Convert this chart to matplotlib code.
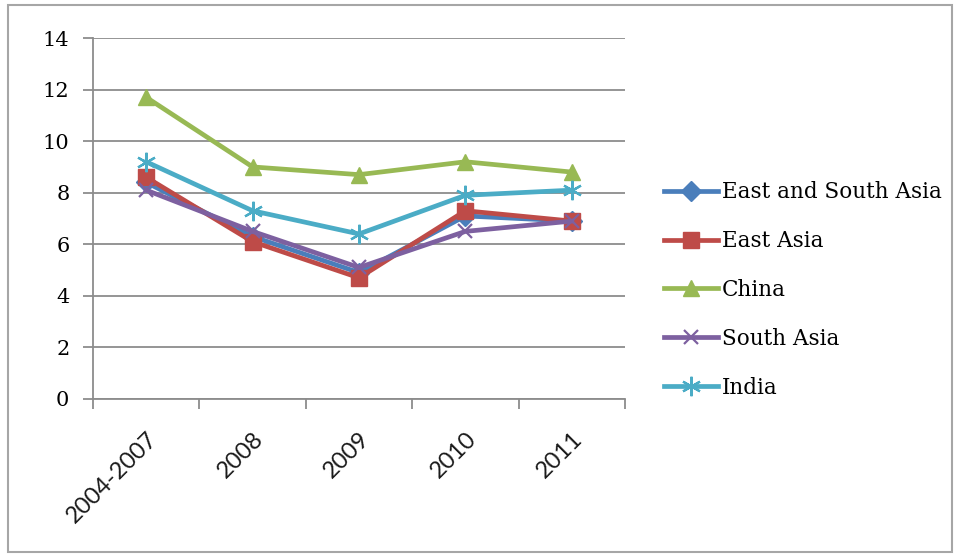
import matplotlib
matplotlib.use("Agg")
import matplotlib.pyplot as plt
from matplotlib.patches import Rectangle
from matplotlib.ticker import FixedLocator
from matplotlib.transforms import ScaledTranslation

categories = ["2004-2007", "2008", "2009", "2010", "2011"]
east_south_asia = [8.4, 6.3, 4.9, 7.1, 6.9]
east_asia = [8.6, 6.1, 4.7, 7.3, 6.9]
china = [11.7, 9.0, 8.7, 9.2, 8.8]
south_asia = [8.1, 6.5, 5.1, 6.5, 6.9]
india = [9.2, 7.3, 6.4, 7.9, 8.1]
y_ticks = [0, 2, 4, 6, 8, 10, 12, 14]

plt.rcParams['font.family'] = ['DejaVu Serif']

fig = plt.figure(figsize=(9.6, 5.57), dpi=100)
ax = fig.add_axes([93/960, 1-399/557, (625-93)/960, (399-38)/557])

x = list(range(len(categories)))
series = [
    ("East and South Asia", east_south_asia, "#4A7EBB", "D", 10),
    ("East Asia", east_asia, "#BE4B48", "s", 12),
    ("China", china, "#98B954", "^", 12),
    ("South Asia", south_asia, "#7D60A0", "x", 10),
    ("India", india, "#4BACC6", (6, 2, 0), 14),
]
for name, vals, col, mk, ms in series:
    kw = dict(markeredgecolor=col, markerfacecolor=col)
    if mk == "x" or mk == (6, 2, 0):
        kw['markeredgewidth'] = 1.6
    ax.plot(x, vals, color=col, lw=3.4, marker=mk, markersize=ms, label=name,
            solid_joinstyle='round', **kw)

ax.set_xlim(-0.5, 4.5)
ax.set_ylim(0, 14)
ax.set_yticks(y_ticks)
ax.set_yticklabels([str(v) for v in y_ticks], fontsize=15)
ax.yaxis.grid(True, color="#8c8c8c", lw=1.3)
ax.set_axisbelow(True)

ax.set_xticks(x)
ax.set_xticklabels(categories, rotation=45, ha='right', rotation_mode='anchor',
                   fontsize=17, family=['Lato', 'DejaVu Sans'], color='#1a1a1a')
offset = ScaledTranslation(-8/100, 0, fig.dpi_scale_trans)
for lbl in ax.get_xticklabels():
    lbl.set_transform(lbl.get_transform() + offset)
ax.tick_params(axis='x', which='major', length=0, pad=21)
ax.xaxis.set_minor_locator(FixedLocator([-0.5, 0.5, 1.5, 2.5, 3.5, 4.5]))
ax.tick_params(axis='x', which='minor', length=7, color="#8c8c8c", width=1.3)
ax.tick_params(axis='y', length=7, color="#8c8c8c", width=1.3, pad=10)

for s in ['top', 'right']:
    ax.spines[s].set_visible(False)
for s in ['left', 'bottom']:
    ax.spines[s].set_color("#8c8c8c")
    ax.spines[s].set_linewidth(1.3)

leg = ax.legend(loc='center left', bbox_to_anchor=(664/960, 1-290/557),
                bbox_transform=fig.transFigure, frameon=False, fontsize=15.5,
                handlelength=2.5, handletextpad=0.2, labelspacing=1.25,
                borderaxespad=0, borderpad=0)

fig.patches.append(Rectangle((8/960, 5/557), 944/960, 547/557, transform=fig.transFigure,
                             fill=False, edgecolor="#a6a6a6", lw=1.5))

fig.savefig("out.png", dpi=100)
